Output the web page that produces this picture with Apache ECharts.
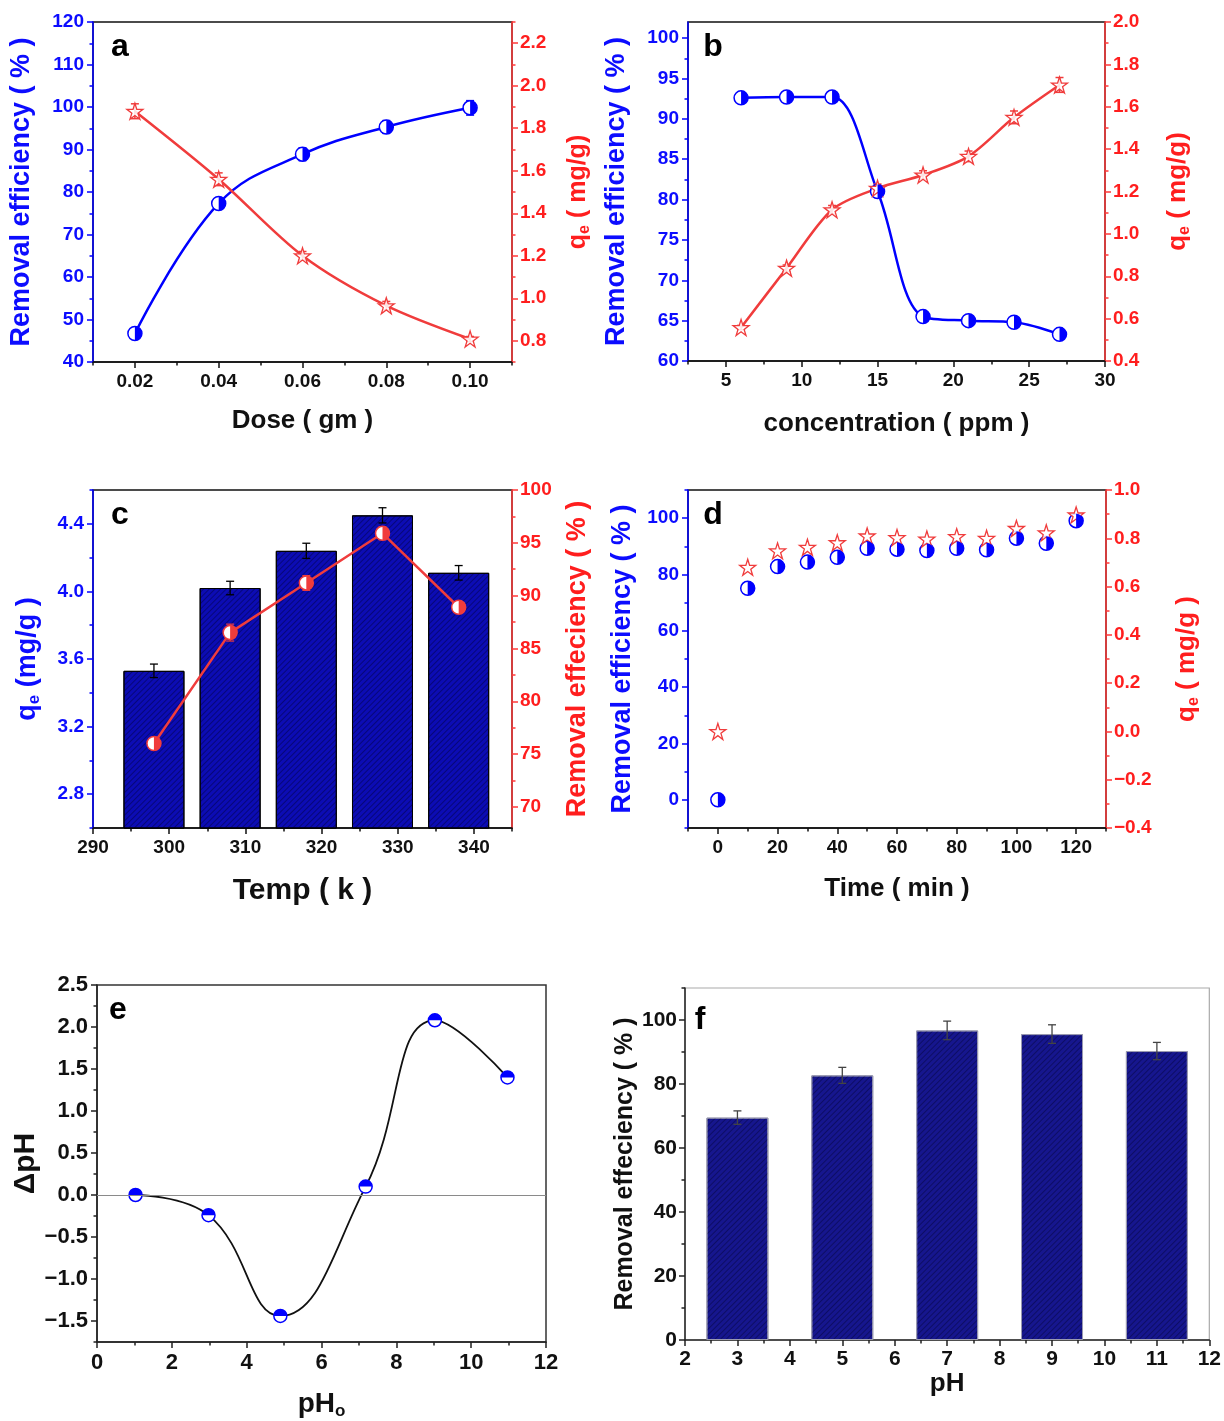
<!DOCTYPE html>
<html><head><meta charset="utf-8">
<script src="https://cdn.jsdelivr.net/npm/echarts@6/dist/echarts.min.js"></script>
<style>html,body{margin:0;padding:0;background:#fff}#c{width:1224px;height:1421px}</style>
</head><body><div id="c"></div>
<script>
// ---------------- DATA ----------------
// (a) dose
const A_dose = [0.02, 0.04, 0.06, 0.08, 0.10];
const A_removal = [46.7, 77.3, 88.9, 95.3, 99.8];
const A_removalErr = [1.0, 1.3, 1.5, 1.5, 1.7];
const A_qe = [1.88, 1.56, 1.20, 0.965, 0.808];
const A_qeErr = [0.035, 0.03, 0.02, 0.02, 0.012];
const A_xLabels = [0.02, 0.04, 0.06, 0.08, 0.10];
const A_xMinor = [0.01, 0.03, 0.05, 0.07, 0.09, 0.11];
const A_yLLabels = [40, 50, 60, 70, 80, 90, 100, 110, 120];
const A_yLMinor = [45, 55, 65, 75, 85, 95, 105, 115];
const A_yRLabels = [0.8, 1.0, 1.2, 1.4, 1.6, 1.8, 2.0, 2.2];
const A_yRMinor = [0.7, 0.9, 1.1, 1.3, 1.5, 1.7, 1.9, 2.1, 2.3];

// (b) concentration
const B_conc = [6, 9, 12, 15, 18, 21, 24, 27];
const B_removal = [92.6, 92.7, 92.7, 81.0, 65.5, 65.0, 64.8, 63.3];
const B_removalErr = [0.6, 0.6, 0.6, 0.5, 0.5, 0.5, 0.5, 0.5];
const B_qe = [0.558, 0.838, 1.114, 1.215, 1.278, 1.366, 1.55, 1.703];
const B_qeErr = [0.01, 0.015, 0.02, 0.02, 0.02, 0.025, 0.03, 0.035];
const B_xLabels = [5, 10, 15, 20, 25, 30];
const B_xMinor = [2.5, 7.5, 12.5, 17.5, 22.5, 27.5];
const B_yLLabels = [60, 65, 70, 75, 80, 85, 90, 95, 100];
const B_yLMinor = [62.5, 67.5, 72.5, 77.5, 82.5, 87.5, 92.5, 97.5];
const B_yRLabels = [0.4, 0.6, 0.8, 1.0, 1.2, 1.4, 1.6, 1.8, 2.0];
const B_yRMinor = [0.5, 0.7, 0.9, 1.1, 1.3, 1.5, 1.7, 1.9];

// (c) temperature
const C_temp = [298, 308, 318, 328, 338];
const C_qe = [3.53, 4.02, 4.24, 4.45, 4.11];
const C_qeErr = [0.04, 0.04, 0.045, 0.045, 0.043];
const C_removal = [76.0, 86.5, 91.2, 95.9, 88.9];
const C_removalErr = [0.5, 0.8, 0.7, 0.6, 0.5];
const C_xLabels = [290, 300, 310, 320, 330, 340];
const C_xMinor = [295, 305, 315, 325, 335, 345];
const C_yLLabels = [2.8, 3.2, 3.6, 4.0, 4.4];
const C_yLMinor = [2.6, 3.0, 3.4, 3.8, 4.2, 4.6];
const C_yRLabels = [70, 75, 80, 85, 90, 95, 100];
const C_yRMinor = [72.5, 77.5, 82.5, 87.5, 92.5, 97.5];

// (d) time
const D_time = [0, 10, 20, 30, 40, 50, 60, 70, 80, 90, 100, 110, 120];
const D_removal = [0, 75.1, 82.8, 84.4, 86.1, 89.3, 89.0, 88.5, 89.3, 88.8, 92.9, 91.1, 99.1];
const D_removalErr = [0, 1.0, 1.5, 1.5, 1.5, 1.5, 1.5, 1.5, 1.5, 1.5, 1.5, 1.5, 1.8];
const D_qe = [0.0, 0.68, 0.748, 0.763, 0.782, 0.81, 0.803, 0.797, 0.807, 0.80, 0.841, 0.823, 0.897];
const D_xLabels = [0, 20, 40, 60, 80, 100, 120];
const D_xMinor = [-10, 10, 30, 50, 70, 90, 110, 130];
const D_yLLabels = [0, 20, 40, 60, 80, 100];
const D_yLMinor = [-10, 10, 30, 50, 70, 90, 110];
const D_yRLabels = [-0.4, -0.2, 0.0, 0.2, 0.4, 0.6, 0.8, 1.0];
const D_yRMinor = [-0.3, -0.1, 0.1, 0.3, 0.5, 0.7, 0.9];

// (e) point of zero charge
const E_pH0 = [1.03, 2.98, 4.9, 7.18, 9.03, 10.97];
const E_dpH = [0.0, -0.24, -1.44, 0.10, 2.08, 1.40];
const E_xLabels = [0, 2, 4, 6, 8, 10, 12];
const E_xMinor = [1, 3, 5, 7, 9, 11];
const E_yLabels = [-1.5, -1.0, -0.5, 0.0, 0.5, 1.0, 1.5, 2.0, 2.5];
const E_yMinor = [-1.75, -1.25, -0.75, -0.25, 0.25, 0.75, 1.25, 1.75, 2.25];

// (f) pH
const F_pH = [3, 5, 7, 9, 11];
const F_removal = [69.5, 82.7, 96.75, 95.6, 90.3];
const F_removalErr = [2.1, 2.5, 2.9, 2.9, 2.7];
const F_xLabels = [2, 3, 4, 5, 6, 7, 8, 9, 10, 11, 12];
const F_xMinor = [2.5, 3.5, 4.5, 5.5, 6.5, 7.5, 8.5, 9.5, 10.5, 11.5];
const F_yLabels = [0, 20, 40, 60, 80, 100];
const F_yMinor = [10, 30, 50, 70, 90, 110];

// ---------------- STYLE ----------------
const FONT = '"Liberation Sans", Arial, Helvetica, sans-serif';
const BLUE = '#0000ff', BLUE_T = '#0c0cff';
const RED = '#f03c3c', RED_A = '#ff3838', RED_T = '#ff1e1e';
const BLACK = '#111111';
const HALF_R = 'path://M0,0 A10,10 0 0,1 0,20 Z';
const HALF_T = 'path://M0,10 A10,10 0 0,1 20,10 Z';
const STAR = 'path://M10,0 L12.245,6.909 L19.511,6.91 L13.633,11.18 L15.878,18.09 L10,13.82 L4.122,18.09 L6.367,11.18 L0.489,6.91 L7.755,6.909 Z';

const zip = (xs, ys) => xs.map((x, i) => [x, ys[i]]);
const zip3 = (xs, ys, es) => xs.map((x, i) => [x, ys[i], es[i]]);
const minusFix = (s) => s.replace('-', '\u2212');
const f0 = v => minusFix(String(Math.round(v)));
const f1 = v => minusFix((Math.abs(v) < 1e-9 ? 0 : v).toFixed(1));
const f2 = v => v.toFixed(2);
const ns = (color, size) => ({color: color, fontSize: size, fontWeight: 'bold', fontFamily: FONT});
const subName = (color, size) => ({
  rich: {
    q: {color: color, fontSize: size, fontWeight: 'bold', fontFamily: FONT, lineHeight: size + 4},
    s: {color: color, fontSize: Math.round(size * 0.62), fontWeight: 'bold', fontFamily: FONT, verticalAlign: 'bottom', lineHeight: Math.round(size * 0.62)}
  }
});

const xAxes = [], yAxes = [];
function addAxis(list, o) {
  list.push({
    type: 'value', gridIndex: o.grid, position: o.pos, min: o.min, max: o.max,
    axisLine: {show: true, onZero: false, lineStyle: {color: o.line, width: 1.5}},
    axisTick: {show: true, customValues: o.major, length: 6, lineStyle: {color: o.line, width: 1.5}},
    axisLabel: {show: true, customValues: o.major, formatter: o.fmt, color: o.text, fontSize: o.fs,
      fontWeight: 'bold', fontFamily: FONT, margin: o.margin},
    splitLine: {show: false},
    name: o.name, nameLocation: 'middle', nameGap: o.gap, nameRotate: o.rot || 0,
    nameTextStyle: o.nameStyle
  });
  const idx = list.length - 1;
  if (o.minor) {
    list.push({
      type: 'value', gridIndex: o.grid, position: o.pos, min: o.min, max: o.max,
      axisLine: {show: false, onZero: false},
      axisTick: {show: true, customValues: o.minor, length: 3.5, lineStyle: {color: o.line, width: 1.5}},
      axisLabel: {show: false}, splitLine: {show: false}
    });
  }
  return idx;
}

function errBar(color, cap, lw) {
  return function (params, api) {
    const x = api.value(0), y = api.value(1), e = api.value(2);
    if (!e) return null;
    const t = api.coord([x, y + e]), b = api.coord([x, y - e]);
    const st = {stroke: color, lineWidth: lw || 1.5};
    return {type: 'group', children: [
      {type: 'line', shape: {x1: t[0], y1: t[1], x2: b[0], y2: b[1]}, style: st},
      {type: 'line', shape: {x1: t[0] - cap, y1: t[1], x2: t[0] + cap, y2: t[1]}, style: st},
      {type: 'line', shape: {x1: b[0] - cap, y1: b[1], x2: b[0] + cap, y2: b[1]}, style: st}
    ]};
  };
}
function errSeries(xi, yi, data, color, cap, lw) {
  return {type: 'custom', xAxisIndex: xi, yAxisIndex: yi, data: data, silent: true,
    dimensions: ['x', 'y', 'e'], encode: {x: 0, y: 1}, renderItem: errBar(color, cap, lw), z: 3};
}
function halfMarkers(xi, yi, data, color, size, dir) {
  const half = dir === 'right'
    ? {symbol: HALF_R, symbolSize: [size / 2, size], symbolOffset: [size / 4, 0]}
    : {symbol: HALF_T, symbolSize: [size, size / 2], symbolOffset: [0, -size / 4]};
  return [
    {type: 'scatter', xAxisIndex: xi, yAxisIndex: yi, data: data, silent: true, symbol: 'circle', symbolSize: size,
      itemStyle: {color: '#ffffff', borderColor: color, borderWidth: 1.5, opacity: 1}, z: 4},
    Object.assign({type: 'scatter', xAxisIndex: xi, yAxisIndex: yi, data: data, silent: true,
      itemStyle: {color: color, opacity: 1}, z: 5}, half)
  ];
}
function stars(xi, yi, data, color, size) {
  return {type: 'scatter', xAxisIndex: xi, yAxisIndex: yi, data: data, silent: true, symbol: STAR, symbolSize: size,
    itemStyle: {color: 'rgba(255,255,255,0.85)', borderColor: color, borderWidth: 1.3, opacity: 1}, z: 4};
}
function smoothLine(xi, yi, data, color, width, smooth) {
  return {type: 'line', xAxisIndex: xi, yAxisIndex: yi, data: data, silent: true, smooth: smooth, symbol: 'none',
    showSymbol: false, lineStyle: {color: color, width: width}, z: 2};
}

const gridBase = {show: true, borderColor: BLACK, borderWidth: 1.5, backgroundColor: 'rgba(0,0,0,0)', containLabel: false};
const grids = [
  Object.assign({}, gridBase, {left: 93, top: 22, width: 419, height: 340}),
  Object.assign({}, gridBase, {left: 688, top: 22, width: 417, height: 339}),
  Object.assign({}, gridBase, {left: 93, top: 490, width: 419, height: 338}),
  Object.assign({}, gridBase, {left: 688, top: 490, width: 418, height: 338}),
  Object.assign({}, gridBase, {left: 97, top: 985, width: 449, height: 360, borderColor: '#333'}),
  Object.assign({}, gridBase, {left: 685, top: 988, width: 527, height: 352, borderColor: '#aaaaaa', borderWidth: 1.2})
];

const series = [];

// ---- (a)
const xa = addAxis(xAxes, {grid: 0, pos: 'bottom', min: 0.01, max: 0.11, major: A_xLabels, minor: A_xMinor, fmt: f2,
  line: BLACK, text: BLACK, fs: 19, margin: 10, name: 'Dose ( gm )', gap: 46, nameStyle: ns(BLACK, 26)});
const yaL = addAxis(yAxes, {grid: 0, pos: 'left', min: 40, max: 120, major: A_yLLabels, minor: A_yLMinor, fmt: f0,
  line: BLUE, text: BLUE_T, fs: 19, margin: 9, name: 'Removal efficiency ( % )', gap: 58, rot: 90, nameStyle: ns(BLUE_T, 27)});
const yaR = addAxis(yAxes, {grid: 0, pos: 'right', min: 0.7, max: 2.3, major: A_yRLabels, minor: A_yRMinor, fmt: f1,
  line: RED_A, text: RED_T, fs: 19, margin: 8, name: '{q|q}{s|e}{q| ( mg/g)}', gap: 52, rot: 90, nameStyle: subName(RED_T, 25)});
series.push(smoothLine(xa, yaL, zip(A_dose, A_removal), BLUE, 2.5, 0.4));
series.push(smoothLine(xa, yaR, zip(A_dose, A_qe), RED, 2.5, 0.3));
series.push(errSeries(xa, yaL, zip3(A_dose, A_removal, A_removalErr), BLUE, 4));
series.push(errSeries(xa, yaR, zip3(A_dose, A_qe, A_qeErr), RED, 4));
series.push(...halfMarkers(xa, yaL, zip(A_dose, A_removal), BLUE, 14, 'right'));
series.push(stars(xa, yaR, zip(A_dose, A_qe), RED, 16));

// ---- (b)
const xb = addAxis(xAxes, {grid: 1, pos: 'bottom', min: 2.5, max: 30, major: B_xLabels, minor: B_xMinor, fmt: f0,
  line: BLACK, text: BLACK, fs: 19, margin: 10, name: 'concentration ( ppm )', gap: 50, nameStyle: ns(BLACK, 26)});
const ybL = addAxis(yAxes, {grid: 1, pos: 'left', min: 60, max: 102, major: B_yLLabels, minor: B_yLMinor, fmt: f0,
  line: BLUE, text: BLUE_T, fs: 19, margin: 9, name: 'Removal efficiency ( % )', gap: 58, rot: 90, nameStyle: ns(BLUE_T, 27)});
const ybR = addAxis(yAxes, {grid: 1, pos: 'right', min: 0.4, max: 2.0, major: B_yRLabels, minor: B_yRMinor, fmt: f1,
  line: RED_A, text: RED_T, fs: 19, margin: 8, name: '{q|q}{s|e}{q| ( mg/g)}', gap: 58, rot: 90, nameStyle: subName(RED_T, 26)});
series.push(smoothLine(xb, ybL, zip(B_conc, B_removal), BLUE, 2.5, 0.35));
series.push(smoothLine(xb, ybR, zip(B_conc, B_qe), RED, 2.5, 0.3));
series.push(errSeries(xb, ybL, zip3(B_conc, B_removal, B_removalErr), BLUE, 4));
series.push(errSeries(xb, ybR, zip3(B_conc, B_qe, B_qeErr), RED, 4));
series.push(...halfMarkers(xb, ybL, zip(B_conc, B_removal), BLUE, 14, 'right'));
series.push(stars(xb, ybR, zip(B_conc, B_qe), RED, 16));

// ---- (c)
const xc = addAxis(xAxes, {grid: 2, pos: 'bottom', min: 290, max: 345, major: C_xLabels, minor: C_xMinor, fmt: f0,
  line: BLACK, text: BLACK, fs: 19, margin: 10, name: 'Temp ( k )', gap: 48, nameStyle: ns(BLACK, 30)});
const ycL = addAxis(yAxes, {grid: 2, pos: 'left', min: 2.6, max: 4.6, major: C_yLLabels, minor: C_yLMinor, fmt: f1,
  line: BLUE, text: BLUE_T, fs: 19, margin: 9, name: '{q|q}{s|e}{q| (mg/g )}', gap: 50, rot: 90, nameStyle: subName(BLUE_T, 27)});
const ycR = addAxis(yAxes, {grid: 2, pos: 'right', min: 68, max: 100, major: C_yRLabels, minor: C_yRMinor, fmt: f0,
  line: RED_A, text: RED_T, fs: 19, margin: 8, name: 'Removal effeciency ( % )', gap: 52, rot: 90, nameStyle: ns(RED_T, 27)});
series.push({type: 'bar', xAxisIndex: xc, yAxisIndex: ycL, data: zip(C_temp, C_qe), barWidth: 61, silent: true, clip: true,
  itemStyle: {color: '#0c0cb4', borderColor: '#000', borderWidth: 1,
    decal: {symbol: 'rect', symbolSize: 1, color: 'rgba(0,0,50,0.45)', dashArrayX: [1, 0], dashArrayY: [1, 3], rotation: -Math.PI / 4}},
  z: 1});
series.push(errSeries(xc, ycL, zip3(C_temp, C_qe, C_qeErr), '#000', 4, 1.3));
series.push({type: 'line', xAxisIndex: xc, yAxisIndex: ycR, data: zip(C_temp, C_removal), silent: true, symbol: 'none',
  lineStyle: {color: RED, width: 2.5}, z: 2});
series.push(errSeries(xc, ycR, zip3(C_temp, C_removal, C_removalErr), RED, 4, 1.2));
series.push(...halfMarkers(xc, ycR, zip(C_temp, C_removal), RED, 14, 'right'));

// ---- (d)
const xd = addAxis(xAxes, {grid: 3, pos: 'bottom', min: -10, max: 130, major: D_xLabels, minor: D_xMinor, fmt: f0,
  line: BLACK, text: BLACK, fs: 19, margin: 10, name: 'Time ( min )', gap: 48, nameStyle: ns(BLACK, 26)});
const ydL = addAxis(yAxes, {grid: 3, pos: 'left', min: -10, max: 110, major: D_yLLabels, minor: D_yLMinor, fmt: f0,
  line: BLUE, text: BLUE_T, fs: 19, margin: 9, name: 'Removal efficiency ( % )', gap: 52, rot: 90, nameStyle: ns(BLUE_T, 27)});
const ydR = addAxis(yAxes, {grid: 3, pos: 'right', min: -0.4, max: 1.0, major: D_yRLabels, minor: D_yRMinor, fmt: f1,
  line: RED_A, text: RED_T, fs: 19, margin: 8, name: '{q|q}{s|e}{q| ( mg/g )}', gap: 66, rot: 90, nameStyle: subName(RED_T, 26)});
series.push(errSeries(xd, ydL, zip3(D_time, D_removal, D_removalErr), BLUE, 4));
series.push(...halfMarkers(xd, ydL, zip(D_time, D_removal), BLUE, 14, 'right'));
series.push(stars(xd, ydR, zip(D_time, D_qe), RED, 16));

// ---- (e)
const xe = addAxis(xAxes, {grid: 4, pos: 'bottom', min: 0, max: 12, major: E_xLabels, minor: E_xMinor, fmt: f0,
  line: '#222', text: BLACK, fs: 22, margin: 10, name: '{q|pH}{s|o}', gap: 46, nameStyle: subName(BLACK, 28)});
const ye = addAxis(yAxes, {grid: 4, pos: 'left', min: -1.75, max: 2.5, major: E_yLabels, minor: E_yMinor, fmt: f1,
  line: '#222', text: BLACK, fs: 22, margin: 9, name: '\u0394pH', gap: 54, rot: 90, nameStyle: ns(BLACK, 30)});
series.push(Object.assign(smoothLine(xe, ye, zip(E_pH0, E_dpH), '#111', 1.8, 0.45), {
  markLine: {silent: true, symbol: 'none', label: {show: false}, lineStyle: {color: '#8a8a8a', width: 1.2, type: 'solid'},
    data: [{yAxis: 0}]}
}));
series.push(...halfMarkers(xe, ye, zip(E_pH0, E_dpH), BLUE, 13, 'top'));

// ---- (f)
const xf = addAxis(xAxes, {grid: 5, pos: 'bottom', min: 2, max: 12, major: F_xLabels, minor: F_xMinor, fmt: f0,
  line: '#222', text: BLACK, fs: 21, margin: 9, name: 'pH', gap: 26, nameStyle: ns(BLACK, 26)});
const yf = addAxis(yAxes, {grid: 5, pos: 'left', min: 0, max: 110, major: F_yLabels, minor: F_yMinor, fmt: f0,
  line: '#222', text: BLACK, fs: 21, margin: 8, name: 'Removal effeciency ( % )', gap: 38, rot: 90, nameStyle: ns(BLACK, 25)});
series.push({type: 'bar', xAxisIndex: xf, yAxisIndex: yf, data: zip(F_pH, F_removal), barWidth: 62, silent: true,
  itemStyle: {color: '#16168e', borderColor: '#9a9ab0', borderWidth: 1,
    decal: {symbol: 'rect', symbolSize: 1, color: 'rgba(0,0,40,0.4)', dashArrayX: [1, 0], dashArrayY: [1, 3], rotation: -Math.PI / 4}},
  z: 1});
series.push(errSeries(xf, yf, zip3(F_pH, F_removal, F_removalErr), '#444', 4, 1.3));

// ---- panel letters
const letters = [['a', 120, 47], ['b', 713, 47], ['c', 120, 515], ['d', 713, 515], ['e', 118, 1010], ['f', 700, 1020]];

const chart = echarts.init(document.getElementById('c'), null, {renderer: 'canvas'});
chart.setOption({
  animation: false,
  backgroundColor: '#ffffff',
  grid: grids,
  xAxis: xAxes,
  yAxis: yAxes,
  series: series,
  graphic: letters.map(l => ({type: 'text', x: l[1], y: l[2], silent: true, z: 100,
    style: {text: l[0], fill: '#000', font: 'bold 32px ' + FONT, align: 'center', verticalAlign: 'middle'}}))
});
</script></body></html>
